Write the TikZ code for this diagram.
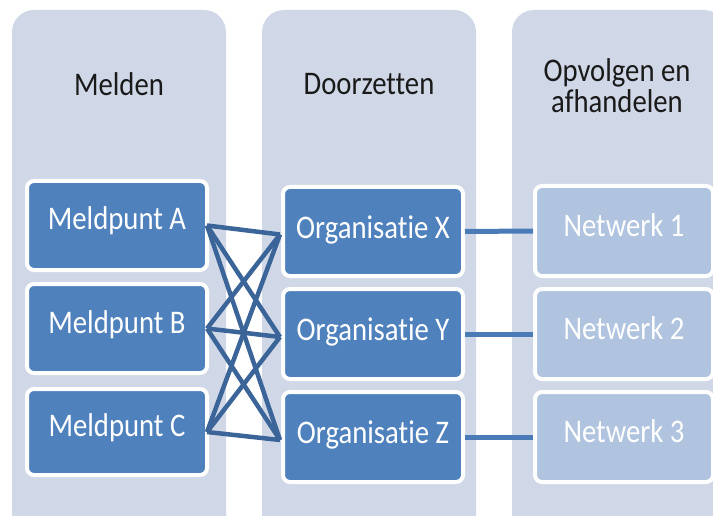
\documentclass[tikz,border=0pt]{standalone}
\usepackage{fontspec}
\setmainfont{Carlito}[FakeStretch=0.87,Ligatures={NoCommon}]
\definecolor{colbg}{HTML}{D0D8E8}
\definecolor{darkbox}{HTML}{4F81BD}
\definecolor{lightbox}{HTML}{B0C3DF}
\definecolor{crossline}{HTML}{3B6598}
\definecolor{hline}{HTML}{4A7BB7}
\definecolor{titletext}{HTML}{1A1A1A}
\begin{document}
\begin{tikzpicture}[x=1pt,y=-1pt,
  colrect/.style={fill=colbg,draw=none,rounded corners=22pt},
  title/.style={font=\fontsize{33}{31}\selectfont,text=titletext,align=center,inner sep=0pt},
  boxbase/.style={draw=white,line width=4pt,rounded corners=7pt,
    font=\fontsize{33}{33}\selectfont,text=white,inner sep=0pt,anchor=north west},
  darkb/.style={boxbase,fill=darkbox},
  lightb/.style={boxbase,fill=lightbox},
  cross/.style={draw=crossline,line width=4.5pt},
  link/.style={draw=hline,line width=5pt}]
\useasboundingbox (0,0) rectangle (713,516);
% columns
\fill[colrect] (12,10) rectangle (226,560);
\fill[colrect] (262,10) rectangle (476,560);
\fill[colrect] (512,10) rectangle (726,560);
% titles
\node[title] (t1) at (119,84) {Melden};
\node[title] (t2) at (369,84) {Doorzetten};
\node[title] (t3) at (617,86) {Opvolgen en\\afhandelen};
% column 1
\node[darkb,minimum width=180pt,minimum height=89pt] (A) at (25,179) {\raisebox{15pt}{Meldpunt A}};
\node[darkb,minimum width=180pt,minimum height=89pt] (B) at (25,282) {\raisebox{13pt}{Meldpunt B}};
\node[darkb,minimum width=180pt,minimum height=86pt] (C) at (25,387) {\raisebox{13pt}{Meldpunt C}};
% column 2
\node[darkb,minimum width=180pt,minimum height=89pt] (X) at (281,185) {\raisebox{9pt}{Organisatie X}};
\node[darkb,minimum width=180pt,minimum height=90pt] (Y) at (281,287) {\raisebox{9pt}{Organisatie Y}};
\node[darkb,minimum width=180pt,minimum height=90pt] (Z) at (281,390) {\raisebox{9pt}{Organisatie Z}};
% column 3
\node[lightb,minimum width=178pt,minimum height=90pt] (N1) at (533,184) {\raisebox{11pt}{Netwerk 1}};
\node[lightb,minimum width=178pt,minimum height=90pt] (N2) at (533,287) {\raisebox{11pt}{Netwerk 2}};
\node[lightb,minimum width=178pt,minimum height=90pt] (N3) at (533,390) {\raisebox{11pt}{Netwerk 3}};
% cross connections
\foreach \s in {A,B,C}{
  \foreach \t in {X,Y,Z}{
    \draw[cross] ([xshift=-2pt]\s.east) -- ([xshift=-1pt,yshift=-3pt]\t.west);
  }
}
% links
\draw[link] (X.east) -- (N1.west);
\draw[link] (Y.east) -- (N2.west);
\draw[link] (Z.east) -- (N3.west);
\end{tikzpicture}
\end{document}
